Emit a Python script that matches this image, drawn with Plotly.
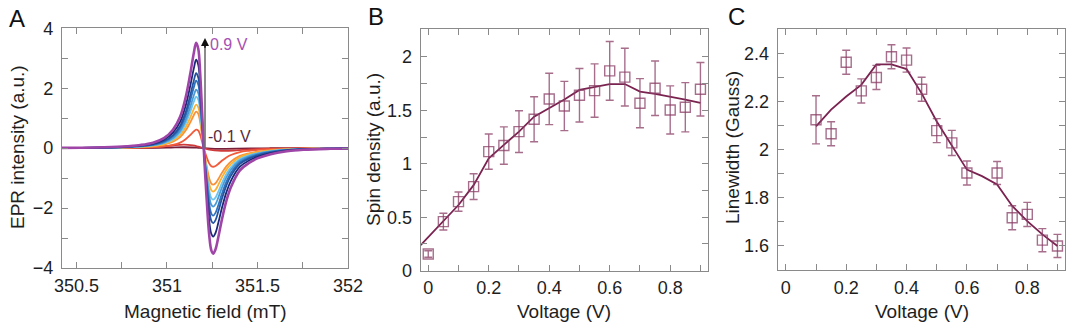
import plotly.graph_objects as go

# ---------------- Panel A: EPR spectra ----------------
# Resonance centre (mT) and the sampled derivative line shapes (normalised to peak = 1)
CENTER_MT = 351.203
NARROW_OFFSET = [-0.80, -0.60, -0.45, -0.35, -0.28, -0.22, -0.17, -0.13, -0.10, -0.075,
                 -0.055, -0.042, -0.030, -0.020, -0.010, 0.0, 0.015, 0.030, 0.042, 0.052,
                 0.065, 0.080, 0.100, 0.125, 0.150, 0.200, 0.250, 0.300, 0.370, 0.450,
                 0.550, 0.700, 0.800]
NARROW_SHAPE = [0.002, 0.006, 0.015, 0.030, 0.052, 0.095, 0.175, 0.300, 0.480, 0.700,
                0.900, 1.000, 0.940, 0.720, 0.380, 0.0, -0.450, -0.820, -0.970, -1.000,
                -0.960, -0.850, -0.680, -0.500, -0.370, -0.210, -0.140, -0.095, -0.057, -0.031,
                -0.015, -0.006, -0.003]
BROAD_OFFSET = [-0.80, -0.50, -0.35, -0.25, -0.18, -0.11, -0.06, -0.03, 0.0, 0.04,
                0.08, 0.12, 0.18, 0.26, 0.36, 0.50, 0.80]
BROAD_SHAPE = [0.01, 0.04, 0.13, 0.35, 0.70, 1.00, 0.75, 0.40, 0.0, -0.45,
               -0.70, -0.75, -0.60, -0.35, -0.15, -0.05, -0.01]

VOLTAGES = [-0.1, 0.0, 0.1, 0.2, 0.3, 0.4, 0.5, 0.6, 0.7, 0.8, 0.9]
AMPLITUDES = [0.03, 0.12, 0.62, 1.22, 1.45, 1.72, 1.95, 2.25, 2.50, 2.95, 3.52]
LINE_KIND = ["broad", "broad", "narrow", "narrow", "narrow", "narrow",
             "narrow", "narrow", "narrow", "narrow", "narrow"]
CURVE_COLORS = ["#7a1f3a", "#cf3b3b", "#f15a3a", "#f7923a", "#f9b233", "#6cc6ee",
                "#4a9ad6", "#2f72bd", "#2454a0", "#1a2a78", "#a045a8"]

# ---------------- Panel B: spin density ----------------
V_B = [0.0, 0.05, 0.1, 0.15, 0.2, 0.25, 0.3, 0.35, 0.4, 0.45,
       0.5, 0.55, 0.6, 0.65, 0.7, 0.75, 0.8, 0.85, 0.9]
SPIN = [0.156, 0.459, 0.646, 0.786, 1.113, 1.17, 1.30, 1.416, 1.606, 1.54,
        1.64, 1.684, 1.868, 1.81, 1.566, 1.706, 1.503, 1.528, 1.697]
SPIN_ERR = [0.03, 0.078, 0.09, 0.12, 0.165, 0.175, 0.195, 0.21, 0.24, 0.23,
            0.25, 0.25, 0.275, 0.27, 0.23, 0.255, 0.225, 0.23, 0.25]
FIT_V_B = [-0.025, 0.05, 0.1, 0.15, 0.2, 0.25, 0.3, 0.35, 0.4, 0.45,
           0.5, 0.55, 0.6, 0.65, 0.7, 0.75, 0.8, 0.85, 0.9]
FIT_SPIN = [0.24, 0.468, 0.614, 0.80, 1.05, 1.176, 1.30, 1.44, 1.52, 1.60,
            1.69, 1.72, 1.745, 1.745, 1.675, 1.653, 1.63, 1.60, 1.57]

# ---------------- Panel C: linewidth ----------------
V_C = [0.1, 0.15, 0.2, 0.25, 0.3, 0.35, 0.4, 0.45, 0.5, 0.55,
       0.6, 0.7, 0.75, 0.8, 0.85, 0.9]
WIDTH_G = [2.124, 2.066, 2.363, 2.244, 2.30, 2.386, 2.372, 2.251, 2.079, 2.028,
           1.903, 1.903, 1.717, 1.731, 1.624, 1.60]
WIDTH_ERR = [0.10, 0.05, 0.05, 0.05, 0.05, 0.05, 0.05, 0.05, 0.05, 0.052,
             0.05, 0.048, 0.05, 0.05, 0.048, 0.048]
FIT_V_C = [0.1, 0.15, 0.2, 0.25, 0.3, 0.35, 0.4, 0.45, 0.5, 0.55,
           0.6, 0.65, 0.7, 0.75, 0.8, 0.85, 0.9]
FIT_WIDTH = [2.097, 2.166, 2.221, 2.269, 2.354, 2.354, 2.335, 2.234, 2.117, 2.014,
             1.917, 1.89, 1.855, 1.766, 1.703, 1.648, 1.60]

W, H = 1080, 331
FONT = "Liberation Sans, Arial, sans-serif"
TXT = "#1e1e1e"
FRAME = "#8a8a8a"
FIT_COLOR = "#7a2350"
MARK_COLOR = "rgba(138,62,102,0.75)"
TICK_SIZE = 18
TITLE_SIZE = 19


def px_x(p):
    return p / W


def px_y(p):
    return 1 - p / H


fig = go.Figure()

# spectra, lowest voltage first so the strongest curve sits on top
for volt, amp, kind, col in zip(VOLTAGES, AMPLITUDES, LINE_KIND, CURVE_COLORS):
    offs = NARROW_OFFSET if kind == "narrow" else BROAD_OFFSET
    shape = NARROW_SHAPE if kind == "narrow" else BROAD_SHAPE
    fig.add_trace(go.Scatter(
        x=[CENTER_MT + o for o in offs], y=[amp * s for s in shape],
        mode="lines", line=dict(color=col, width=2.6 if volt == 0.9 else 1.8, shape="spline"),
        name=f"{volt:.1f} V", showlegend=False, xaxis="x", yaxis="y"))

# spin density
fig.add_trace(go.Scatter(
    x=FIT_V_B, y=FIT_SPIN, mode="lines", line=dict(color=FIT_COLOR, width=1.8),
    showlegend=False, xaxis="x2", yaxis="y2"))
fig.add_trace(go.Scatter(
    x=V_B, y=SPIN, mode="markers",
    marker=dict(symbol="square-open", size=10, color=MARK_COLOR, line=dict(width=1.4)),
    error_y=dict(type="data", array=SPIN_ERR, color=MARK_COLOR, thickness=1.4, width=4),
    showlegend=False, xaxis="x2", yaxis="y2"))

# linewidth
fig.add_trace(go.Scatter(
    x=FIT_V_C, y=FIT_WIDTH, mode="lines", line=dict(color=FIT_COLOR, width=1.8),
    showlegend=False, xaxis="x3", yaxis="y3"))
fig.add_trace(go.Scatter(
    x=V_C, y=WIDTH_G, mode="markers",
    marker=dict(symbol="square-open", size=10, color=MARK_COLOR, line=dict(width=1.4)),
    error_y=dict(type="data", array=WIDTH_ERR, color=MARK_COLOR, thickness=1.4, width=4),
    showlegend=False, xaxis="x3", yaxis="y3"))


def axis(domain, rng, dtick, minor_dtick, anchor, tick0=None, standoff=4):
    d = dict(domain=domain, range=rng, dtick=dtick, anchor=anchor, automargin=False,
             showgrid=False, zeroline=False, showline=True, linecolor=FRAME, linewidth=1.2,
             mirror="ticks", ticks="inside", ticklen=6, tickcolor=FRAME, tickwidth=1.2,
             tickfont=dict(family=FONT, size=TICK_SIZE, color=TXT), ticklabelstandoff=standoff,
             minor=dict(dtick=minor_dtick, ticks="inside", ticklen=6, tickcolor=FRAME,
                        tickwidth=1.2, showgrid=False))
    if tick0 is not None:
        d["tick0"] = tick0
        d["minor"]["tick0"] = tick0
    return d


fig.update_layout(
    template="none",
    width=W, height=H, margin=dict(l=0, r=0, t=0, b=0, pad=0), autosize=False,
    paper_bgcolor="white", plot_bgcolor="white",
    xaxis=axis([px_x(62), px_x(348)], [350.42, 352.0], 0.5, 0.25, "y", tick0=350.5, standoff=1),
    yaxis=axis([px_y(268), px_y(28.3)], [-4, 4], 2, 1, "x"),
    xaxis2=axis([px_x(420.7), px_x(707.7)], [-0.025, 0.924], 0.2, 0.1, "y2", tick0=0, standoff=1),
    yaxis2=axis([px_y(270.7), px_y(29.3)], [0, 2.257], 0.5, 0.25, "x2", tick0=0),
    xaxis3=axis([px_x(777.7), px_x(1065)], [-0.027, 0.925], 0.2, 0.1, "y3", tick0=0, standoff=1),
    yaxis3=axis([px_y(270), px_y(29.3)], [1.5, 2.5], 0.2, 0.1, "x3", tick0=1.6),
)

# vertical arrow through the spectra
fig.add_shape(type="line", xref="x", yref="y", x0=351.21, x1=351.21, y0=0, y1=3.45,
              line=dict(color="#6e6e6e", width=1.6))
fig.add_annotation(xref="x", yref="y", axref="x", ayref="y", x=351.21, y=3.68,
                   ax=351.21, ay=3.3, text="", showarrow=True, arrowhead=2,
                   arrowsize=1, arrowwidth=1.6, arrowcolor="#111111")
fig.add_annotation(xref="x", yref="y", x=351.228, y=3.45, text="0.9 V", showarrow=False,
                   xanchor="left", yanchor="middle",
                   font=dict(family=FONT, size=16, color="#a650b2"))
fig.add_annotation(xref="x", yref="y", x=351.218, y=0.38, text="-0.1 V", showarrow=False,
                   xanchor="left", yanchor="middle",
                   font=dict(family=FONT, size=16, color="#5a2a3a"))

# axis titles
titles = [
    ("Magnetic field (mT)", 205, 311, 0),
    ("EPR intensity (a.u.)", 17, 147, -90),
    ("Voltage (V)", 564, 311, 0),
    ("Spin density (a.u.)", 373, 150, -90),
    ("Voltage (V)", 922, 311, 0),
    ("Linewidth (Gauss)", 732, 148, -90),
]
for text, x, y, ang in titles:
    fig.add_annotation(xref="paper", yref="paper", x=px_x(x), y=px_y(y), text=text,
                       showarrow=False, textangle=ang, xanchor="center", yanchor="middle",
                       font=dict(family=FONT, size=TITLE_SIZE, color=TXT))

# panel letters
for letter, x, y in [("A", 17, 19), ("B", 376, 16), ("C", 736, 16)]:
    fig.add_annotation(xref="paper", yref="paper", x=px_x(x), y=px_y(y), text=letter,
                       showarrow=False, xanchor="center", yanchor="middle",
                       font=dict(family=FONT, size=24, color="#111111"))

fig.write_html("out.html")
